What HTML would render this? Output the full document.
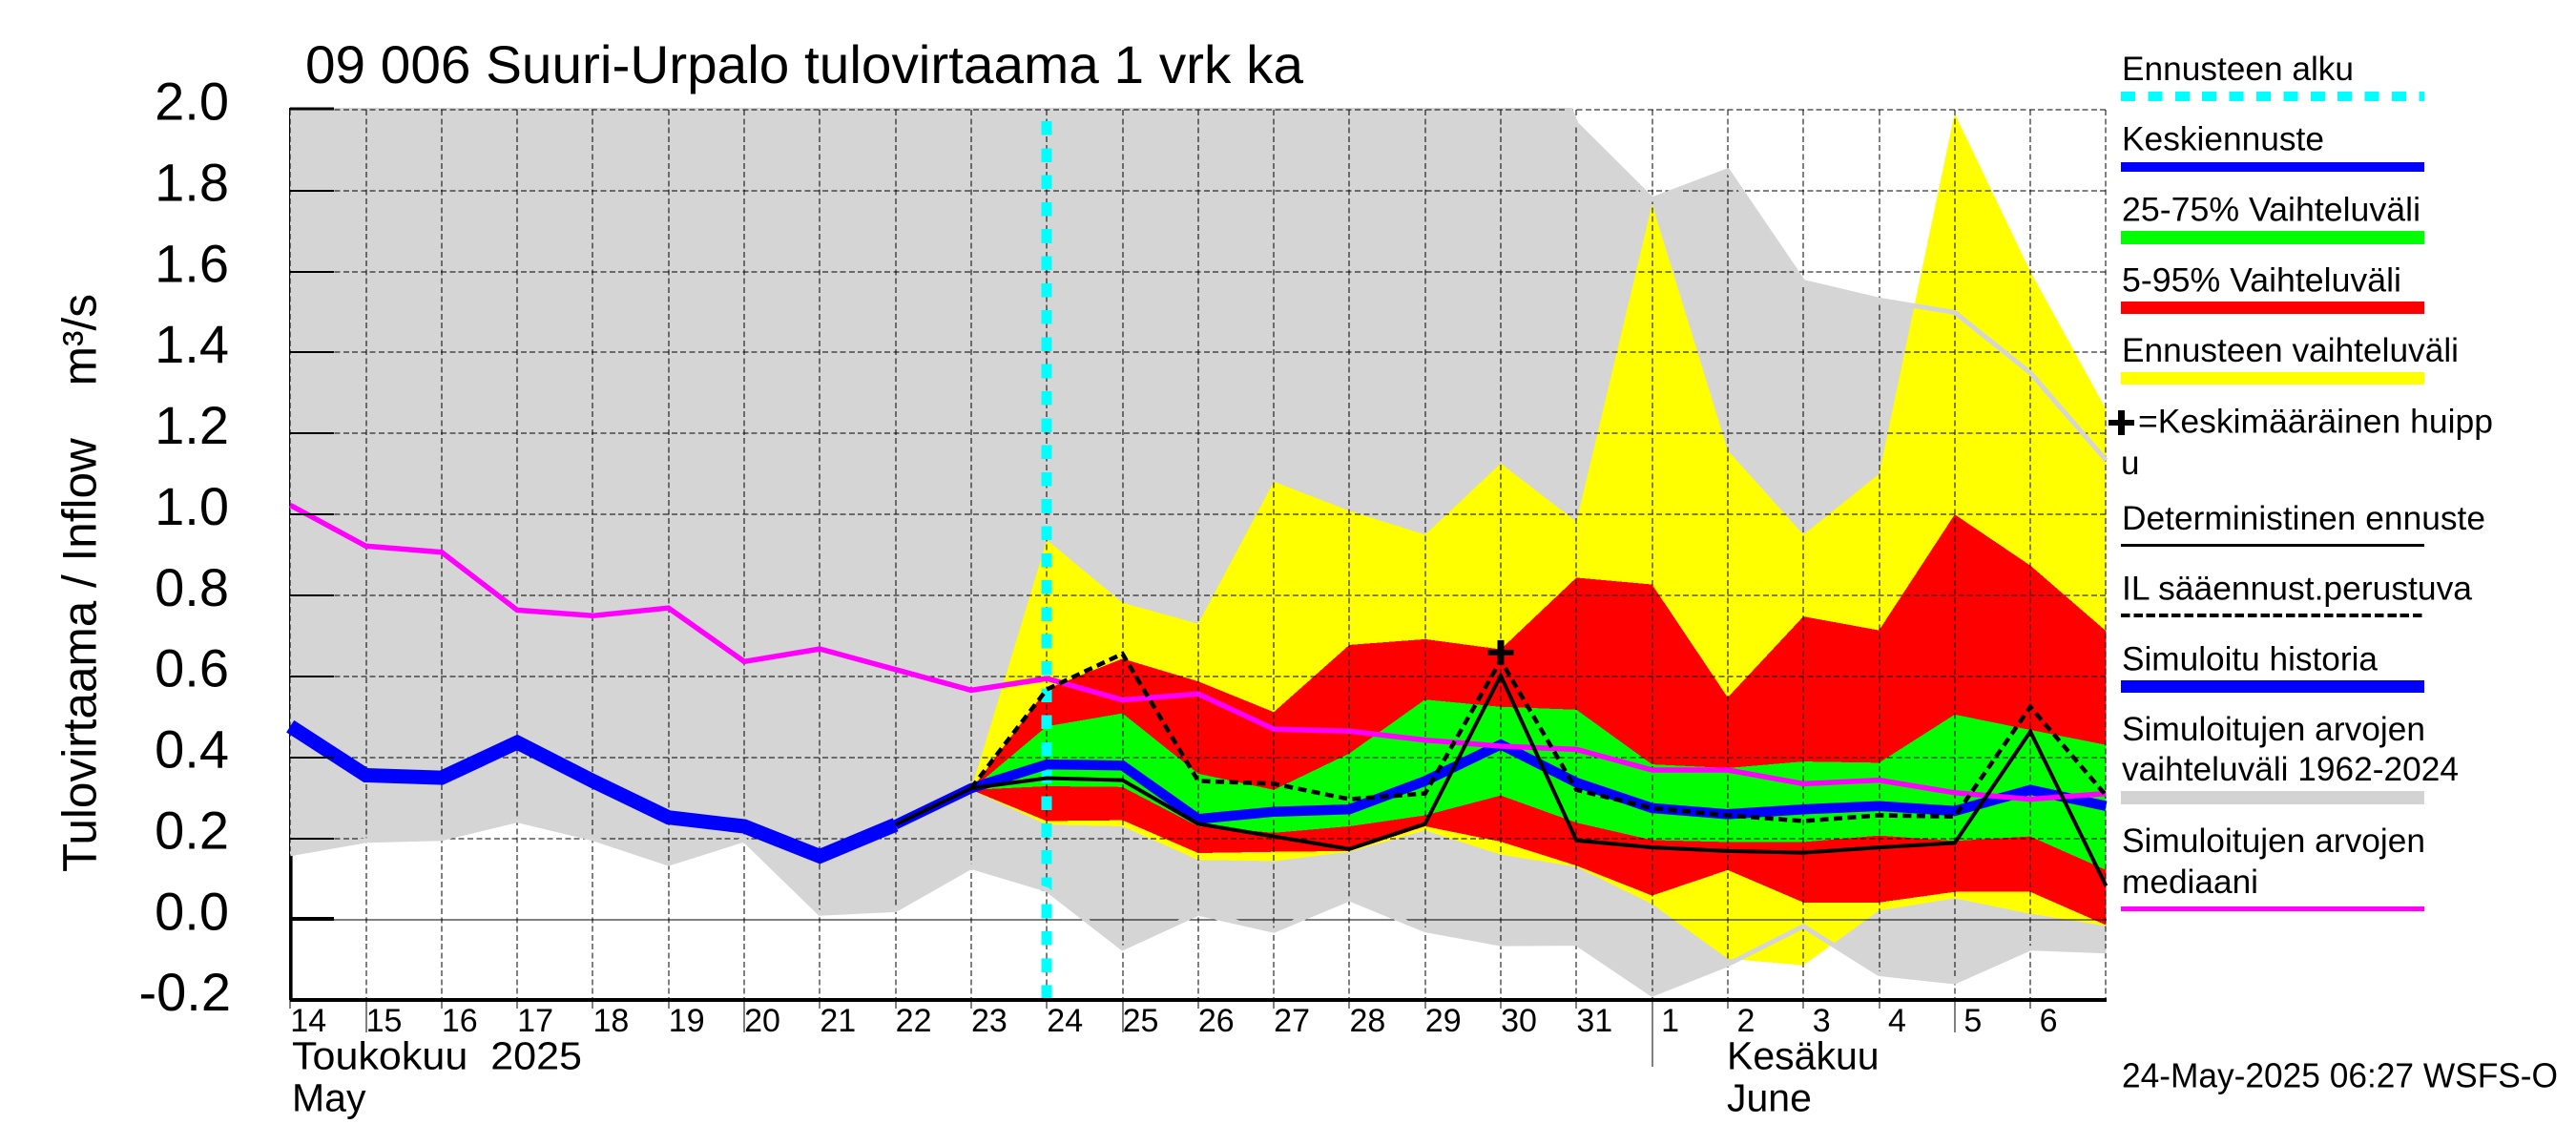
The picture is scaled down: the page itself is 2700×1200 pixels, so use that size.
<!DOCTYPE html>
<html lang="fi">
<head>
<meta charset="utf-8">
<title>09 006 Suuri-Urpalo tulovirtaama 1 vrk ka</title>
<style>
html,body{margin:0;padding:0;background:#fff;}
svg{display:block;}
text{font-family:"Liberation Sans",Arial,sans-serif;fill:#000;white-space:pre;}
.leg{font-size:35px;}
</style>
</head>
<body>
<svg id="chart" xmlns="http://www.w3.org/2000/svg" width="2700" height="1200" viewBox="0 0 2700 1200">
  <defs>
    <clipPath id="plot-clip"><rect x="304" y="113" width="1904" height="935"/></clipPath>
    <clipPath id="line-clip"><rect x="298" y="113" width="1914" height="935"/></clipPath>
  </defs>
  <rect x="0" y="0" width="2700" height="1200" fill="#fff"/>
  <text x="320" y="87" font-size="56" textLength="1046" lengthAdjust="spacingAndGlyphs">09 006 Suuri-Urpalo tulovirtaama 1 vrk ka</text>
  <text transform="translate(100.5 914) rotate(-90)" font-size="50" textLength="606" lengthAdjust="spacingAndGlyphs">Tulovirtaama / Inflow    m³/s</text>
  <g id="layer-axis-under"></g>
  <g id="layer-fills" clip-path="url(#plot-clip)" shape-rendering="crispEdges"></g>
  <g id="layer-grid" shape-rendering="crispEdges"></g>
  <g id="layer-lines" clip-path="url(#line-clip)"></g>
  <g id="layer-axis" shape-rendering="crispEdges"></g>
  <g id="layer-labels"></g>
  <text x="306" y="1120.5" font-size="41" textLength="304" lengthAdjust="spacingAndGlyphs">Toukokuu  2025</text>
  <text x="306" y="1164.5" font-size="41">May</text>
  <text x="1810" y="1120.5" font-size="41">Kesäkuu</text>
  <text x="1810" y="1164.5" font-size="41">June</text>
  <g shape-rendering="crispEdges">
    <text class="leg" x="2224" y="84" textLength="243" lengthAdjust="spacingAndGlyphs">Ennusteen alku</text>
    <line x1="2223" x2="2541" y1="101" y2="101" stroke="#00ffff" stroke-width="10" stroke-dasharray="15 13.4"/>
    <text class="leg" x="2224" y="157.7" textLength="212" lengthAdjust="spacingAndGlyphs">Keskiennuste</text>
    <rect x="2223" y="170" width="318" height="10" fill="#0000ff"/>
    <text class="leg" x="2224" y="231.5" textLength="313" lengthAdjust="spacingAndGlyphs">25-75% Vaihteluväli</text>
    <rect x="2223" y="242" width="318" height="14" fill="#00ff00"/>
    <text class="leg" x="2224" y="305.4" textLength="293" lengthAdjust="spacingAndGlyphs">5-95% Vaihteluväli</text>
    <rect x="2223" y="316" width="318" height="13" fill="#ff0000"/>
    <text class="leg" x="2224" y="378.9" textLength="353" lengthAdjust="spacingAndGlyphs">Ennusteen vaihteluväli</text>
    <rect x="2223" y="390" width="318" height="13" fill="#ffff00"/>
    <rect x="2210" y="440" width="27" height="6" fill="#000"/>
    <rect x="2220" y="430" width="7" height="26" fill="#000"/>
    <text class="leg" x="2241" y="453.5" textLength="372" lengthAdjust="spacingAndGlyphs">=Keskimääräinen huipp</text>
    <text class="leg" x="2223" y="496.8">u</text>
    <text class="leg" x="2224" y="554.9" textLength="381" lengthAdjust="spacingAndGlyphs">Deterministinen ennuste</text>
    <rect x="2223" y="570" width="318" height="3" fill="#000"/>
    <text class="leg" x="2224" y="628.7" textLength="367" lengthAdjust="spacingAndGlyphs">IL sääennust.perustuva</text>
    <line x1="2223" x2="2541" y1="645" y2="645" stroke="#000" stroke-width="4" stroke-dasharray="9.5 3.8"/>
    <text class="leg" x="2224" y="702.6" textLength="268" lengthAdjust="spacingAndGlyphs">Simuloitu historia</text>
    <rect x="2223" y="713" width="318" height="13" fill="#0000ff"/>
    <text class="leg" x="2224" y="776" textLength="318" lengthAdjust="spacingAndGlyphs">Simuloitujen arvojen</text>
    <text class="leg" x="2224" y="818" textLength="353" lengthAdjust="spacingAndGlyphs">vaihteluväli 1962-2024</text>
    <rect x="2223" y="829" width="318" height="14" fill="#d3d3d3"/>
    <text class="leg" x="2224" y="892.8" textLength="318" lengthAdjust="spacingAndGlyphs">Simuloitujen arvojen</text>
    <text class="leg" x="2224" y="936" textLength="143" lengthAdjust="spacingAndGlyphs">mediaani</text>
    <rect x="2223" y="950" width="318" height="5" fill="#ff00ff"/>
  </g>
  <text x="2224" y="1139.6" font-size="36" textLength="457" lengthAdjust="spacingAndGlyphs">24-May-2025 06:27 WSFS-O</text>
</svg>
<script>
// Categories: days from 14 May to the right edge of the plot (7 June)
const categories = ["14","15","16","17","18","19","20","21","22","23","24","25","26","27","28","29","30","31","1","2","3","4","5","6","7"];
const dayTickLabels = ["14","15","16","17","18","19","20","21","22","23","24","25","26","27","28","29","30","31","1","2","3","4","5","6"];
const longTickDays = ["15","20","25","5"];
const monthTickDays = ["1"];
const yTickLabels = ["2.0","1.8","1.6","1.4","1.2","1.0","0.8","0.6","0.4","0.2","0.0","-0.2"];
const yTickValues = [2.0,1.8,1.6,1.4,1.2,1.0,0.8,0.6,0.4,0.2,0.0,-0.2];
const forecastStartDay = "24";
const peakDay = "30";
const peakValue = 0.659;

// Series values (m3/s), null where the series does not exist
const simRangeUpper = [2.5,2.5,2.5,2.5,2.5,2.5,2.5,2.5,2.5,2.5,2.5,2.5,2.5,2.5,2.5,2.5,2.4,1.964,1.778,1.849,1.574,1.53,1.499,1.35,1.134];
const simRangeLower = [0.162,0.195,0.2,0.245,0.2,0.138,0.197,0.015,0.024,0.13,0.074,-0.071,0.015,-0.027,0.051,-0.026,-0.06,-0.059,-0.185,-0.111,-0.017,-0.134,-0.154,-0.071,-0.078];
const forecastUpper = [null,null,null,null,null,null,null,null,null,0.32,0.937,0.782,0.73,1.081,1.009,0.95,1.126,0.982,1.766,1.158,0.95,1.10,1.99,1.60,1.26];
const forecastLower = [null,null,null,null,null,null,null,null,null,0.32,0.234,0.23,0.147,0.144,0.167,0.22,0.16,0.13,0.038,-0.097,-0.113,0.022,0.052,0.014,-0.016];
const p95 = [null,null,null,null,null,null,null,null,null,0.32,0.569,0.644,0.588,0.512,0.678,0.692,0.667,0.844,0.827,0.548,0.748,0.714,1.0,0.874,0.712];
const p05 = [null,null,null,null,null,null,null,null,null,0.32,0.243,0.245,0.164,0.167,0.169,0.23,0.192,0.133,0.059,0.122,0.042,0.042,0.068,0.068,-0.014];
const p75 = [null,null,null,null,null,null,null,null,null,0.32,0.477,0.509,0.36,0.32,0.41,0.543,0.525,0.518,0.383,0.374,0.39,0.387,0.506,0.468,0.431];
const p25 = [null,null,null,null,null,null,null,null,null,0.32,0.329,0.327,0.23,0.214,0.23,0.257,0.306,0.239,0.196,0.191,0.191,0.207,0.194,0.205,0.122];
const simulatedHistory = [0.477,0.356,0.35,0.437,0.342,0.252,0.23,0.156,0.234,null,null,null,null,null,null,null,null,null,null,null,null,null,null,null,null];
const meanForecast = [null,null,null,null,null,null,null,null,0.234,0.324,0.383,0.38,0.248,0.266,0.272,0.342,0.432,0.338,0.275,0.26,0.272,0.28,0.268,0.32,0.28];
const deterministic = [null,null,null,null,null,null,null,null,0.234,0.324,0.349,0.344,0.236,0.205,0.174,0.236,0.602,0.195,0.178,0.169,0.165,0.178,0.189,0.464,0.083];
const ilForecast = [null,null,null,null,null,null,null,null,null,0.324,0.568,0.656,0.342,0.335,0.297,0.311,0.64,0.32,0.275,0.257,0.243,0.257,0.254,0.525,0.306];
const simMedian = [1.023,0.922,0.907,0.764,0.75,0.769,0.637,0.668,0.617,0.566,0.595,0.542,0.557,0.47,0.465,0.443,0.428,0.42,0.369,0.369,0.335,0.344,0.313,0.297,0.311];

const SVGNS = "http://www.w3.org/2000/svg";
const X0 = 304.2, DX = 79.3, Y0 = 963.6, YK = 424.4;
function xAt(i){ return X0 + DX * i; }
function yAt(v){ return Y0 - YK * v; }
function xOfDay(label){ return xAt(categories.indexOf(label)); }
function mk(tag, attrs, parent){
  const el = document.createElementNS(SVGNS, tag);
  for (const k in attrs) el.setAttribute(k, attrs[k]);
  parent.appendChild(el);
  return el;
}
function linePoints(values){
  const out = [];
  values.forEach(function(v, i){
    if (v !== null) out.push(xAt(i).toFixed(1) + "," + yAt(v).toFixed(1));
  });
  return out.join(" ");
}
function bandPoints(upper, lower){
  const top = [], bot = [];
  upper.forEach(function(v, i){
    if (v !== null) top.push(xAt(i).toFixed(1) + "," + yAt(v).toFixed(1));
  });
  lower.forEach(function(v, i){
    if (v !== null) bot.unshift(xAt(i).toFixed(1) + "," + yAt(v).toFixed(1));
  });
  return top.concat(bot).join(" ");
}

const axisUnder = document.getElementById("layer-axis-under");
const fills = document.getElementById("layer-fills");
const grid = document.getElementById("layer-grid");
const lines = document.getElementById("layer-lines");
const axis = document.getElementById("layer-axis");
const labels = document.getElementById("layer-labels");

// Left axis sits beneath the grey band
const yAxisLine = mk("rect", {x:303, y:113, width:3.6, height:935, fill:"#000"}, axisUnder);



// Bands
const bandGrey = mk("polygon", {points:bandPoints(simRangeUpper, simRangeLower), fill:"#d5d5d5"}, fills);


const bandYellow = mk("polygon", {points:bandPoints(forecastUpper, forecastLower), fill:"#ffff00"}, fills);


const bandRed = mk("polygon", {points:bandPoints(p95, p05), fill:"#ff0000"}, fills);


const bandGreen = mk("polygon", {points:bandPoints(p75, p25), fill:"#00ff00"}, fills);



// Grid
yTickValues.forEach(function(v, i){
  const y = Math.round(yAt(v));
  if (v === -0.2) return;
  const g = mk("line", {x1:304, x2:2208, y1:y, y2:y, stroke:"#000", "stroke-width":1, "stroke-dasharray": v === 0 ? "none" : "6 3.3"}, grid);
  
  
});
categories.forEach(function(c, i){
  const x = Math.round(xAt(i));
  const g = mk("line", {x1:x, x2:x, y1:115, y2:1047, stroke:"#000", "stroke-width":1, "stroke-dasharray":"6 3.3"}, grid);
  
  
});

// Forecast start marker
const startX = xOfDay(forecastStartDay);
const startLine = mk("line", {x1:startX, x2:startX, y1:127, y2:1047, stroke:"#00ffff", "stroke-width":11, "stroke-dasharray":"14.6 13.7"}, grid);



// Lines
const upperEdge = mk("polyline", {points:linePoints(simRangeUpper), fill:"none", stroke:"#d5d5d5", "stroke-width":5}, lines);


const lowerEdge = mk("polyline", {points:linePoints(simRangeLower), fill:"none", stroke:"#d5d5d5", "stroke-width":5}, lines);


const historyLine = mk("polyline", {points:linePoints(simulatedHistory), fill:"none", stroke:"#0000ff", "stroke-width":15, "stroke-linejoin":"miter"}, lines);


const meanLine = mk("polyline", {points:linePoints(meanForecast), fill:"none", stroke:"#0000ff", "stroke-width":10.5, "stroke-linejoin":"miter"}, lines);


const medianLine = mk("polyline", {points:linePoints(simMedian), fill:"none", stroke:"#ff00ff", "stroke-width":5.5}, lines);


const detLine = mk("polyline", {points:linePoints(deterministic), fill:"none", stroke:"#000", "stroke-width":4}, lines);


const ilLine = mk("polyline", {points:linePoints(ilForecast), fill:"none", stroke:"#000", "stroke-width":4.5, "stroke-dasharray":"9 5.5"}, lines);



// Mean peak marker
const peakX = xOfDay(peakDay), peakY = yAt(peakValue);
const plusH = mk("rect", {x:peakX - 13.5, y:peakY - 3, width:27, height:6, fill:"#000"}, lines);


const plusV = mk("rect", {x:peakX - 3.5, y:peakY - 13, width:7, height:26, fill:"#000"}, lines);



// Axis: bottom line and ticks
const xAxisLine = mk("rect", {x:304, y:1046, width:1904, height:4, fill:"#000"}, axis);



yTickValues.forEach(function(v, i){
  const y = yAt(v);
  if (v !== -0.2) {
    const h = (v === 2.0) ? 3 : (v === 0) ? 4 : 1.6;
    const t = mk("rect", {x:304, y:Math.round(y) - h / 2 - (v === 2.0 ? 1 : v === 0 ? 1 : 0), width:46, height:h, fill:"#000"}, axis);
    
    
  }
  const anchorX = (v < 0) ? 242 : 240;
  const lab = mk("text", {x:anchorX, y:(y + 10.7).toFixed(1), "font-size":56, "text-anchor":"end"}, labels);
  lab.textContent = yTickLabels[i];
  
  
});

dayTickLabels.forEach(function(d, i){
  const x = Math.round(xAt(i));
  let bottom = 1057;
  if (longTickDays.indexOf(d) >= 0) bottom = 1082;
  if (monthTickDays.indexOf(d) >= 0) bottom = 1118;
  const t = mk("line", {x1:x, x2:x, y1:1048, y2:bottom, stroke:"#000", "stroke-width":1}, axis);
  
  
  const lab = mk("text", {x:(xAt(i) + 19).toFixed(1), y:1081, "font-size":34, "text-anchor":"middle"}, labels);
  lab.textContent = d;
  
  
});
</script>
</body>
</html>
